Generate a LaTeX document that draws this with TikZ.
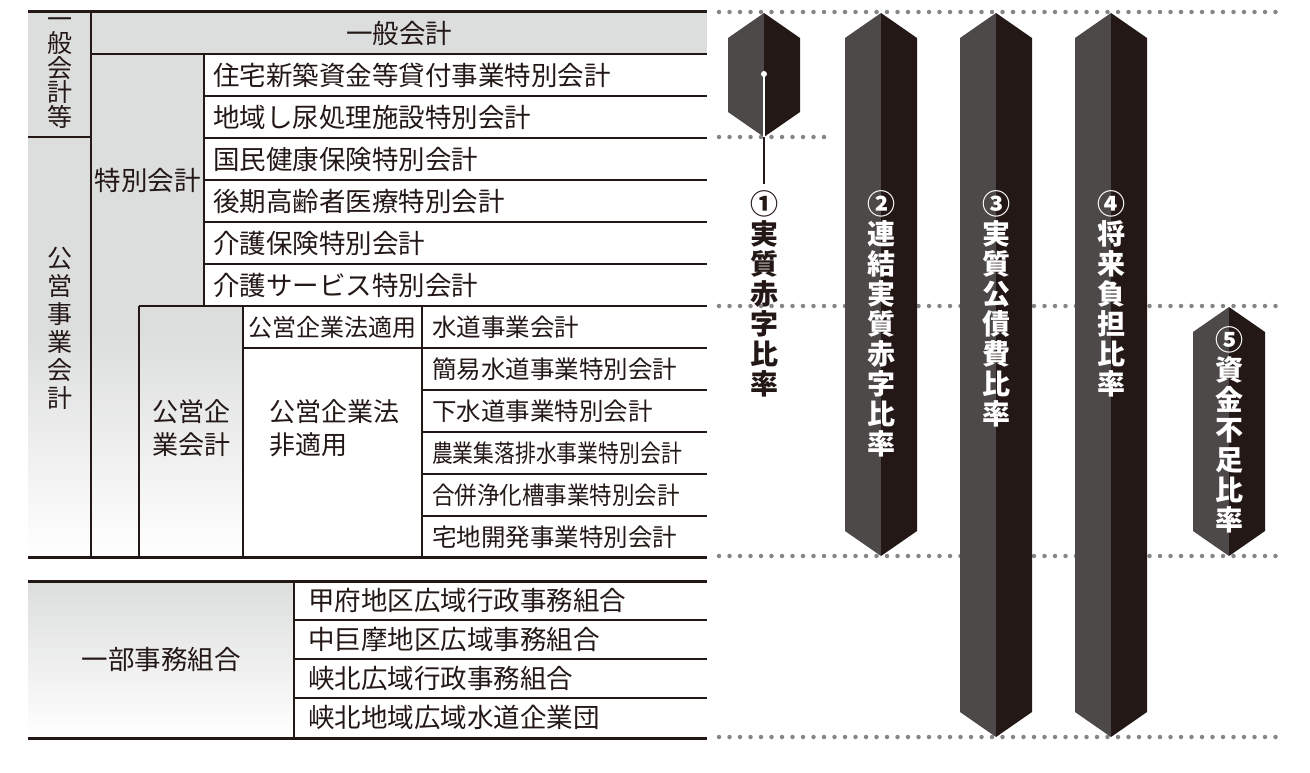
\documentclass[tikz,border=0pt]{standalone}
\usepackage{fontspec}
\usepackage{graphicx}
\usepackage{xcolor}
\newfontfamily\jp{Noto Sans CJK JP}
\definecolor{ink}{HTML}{231815}
\definecolor{gry}{HTML}{DCDDDD}
\definecolor{barlt}{HTML}{4C4948}
\definecolor{dotgray}{HTML}{858585}

\begin{document}
\begin{tikzpicture}[x=1pt,y=-1pt,node distance=42pt,
  rule/.style={draw=ink,line width=1.2pt},
  heavy/.style={draw=ink,line width=3pt},
  dotrule/.style={draw=dotgray,line width=4.5pt,line cap=round,
    dash pattern=on 0pt off 10.5pt},
  head/.style={font=\jp\fontsize{26.5}{28}\selectfont,text=ink,inner sep=0pt},
  acct/.style={head,text width=485pt,align=left},
  subacct/.style={font=\jp\fontsize{24.5}{28}\selectfont,text=ink,
    inner sep=0pt,text width=265pt,align=left},
  vhead/.style={font=\jp\fontsize{25}{24.5}\selectfont,text=ink,
    inner sep=0pt,align=center},
  ratio/.style={font=\jp\bfseries\fontsize{28}{30}\selectfont,
    inner sep=0pt,align=center,anchor=north}]

  \useasboundingbox (0,0) rectangle (1310,773);

  % grey cells
  \fill[gry] (28,12) rectangle (707,54);
  \fill[gry] (28,54) rectangle (204,306);
  \fill[gry] (28,306) rectangle (243,330);
  \shade[top color=gry,bottom color=white] (28,330) rectangle (243,557);
  \shade[top color=gry,bottom color=white] (28,581) rectangle (294,738);

  % table rules
  \draw[rule] (91,12) -- (91,557);
  \draw[rule] (28,137) -- (91,137);
  \draw[rule] (91,54) -- (707,54);
  \draw[rule] (204,54) -- (204,306);
  \draw[rule] (204,96) -- (707,96) (204,138) -- (707,138) (204,180) -- (707,180)
    (204,222) -- (707,222) (204,264) -- (707,264);
  \draw[rule] (139,306) -- (707,306);
  \draw[rule] (139,306) -- (139,557) (243,306) -- (243,557) (422,306) -- (422,557);
  \draw[rule] (243,348) -- (707,348);
  \draw[rule] (422,390) -- (707,390) (422,432) -- (707,432) (422,474) -- (707,474)
    (422,516) -- (707,516);
  \draw[rule] (294,581) -- (294,738);
  \draw[rule] (294,620) -- (707,620) (294,659) -- (707,659) (294,698) -- (707,698);
  \draw[heavy] (28,12) -- (707,12) (28,557) -- (707,557)
    (28,581) -- (707,581) (28,738) -- (707,738);

  \node[head] (ippan) at (399,33) {一般会計};
  \node[vhead] (ippanto) at (60,73) {一\\般\\会\\計\\等};
  \node[vhead,font=\jp\fontsize{25}{28}\selectfont] (koei) at (60,328)
    {公\\営\\事\\業\\会\\計};
  \node[head] (tokubetsu) at (147.5,180) {特別会計};

  \node[acct] (jutaku) at (455.5,75) {住宅新築資金等貸付事業特別会計};
  \node[acct] (shinyo) [below of=jutaku] {地域し尿処理施設特別会計};
  \node[acct] (kokuho) [below of=shinyo] {国民健康保険特別会計};
  \node[acct] (kouki) [below of=kokuho] {後期高齢者医療特別会計};
  \node[acct] (kaigo) [below of=kouki] {介護保険特別会計};
  \node[acct] (kaigosv) [below of=kaigo] {介護サービス特別会計};

  \node[head,align=center,font=\jp\fontsize{26}{33}\selectfont] (kigyo)
    at (191,428) {公営企\\業会計};
  \node[head,font=\jp\fontsize{24}{28}\selectfont] (tekiyo) at (332.5,327)
    {公営企業法適用};
  \node[head,align=left,font=\jp\fontsize{26}{33}\selectfont] (hitekiyo)
    at (334,428) {公営企業法\\非適用};

  \node[subacct] (suido) at (564.5,327) {水道事業会計};
  \node[subacct] (kan-i) [below of=suido] {簡易水道事業特別会計};
  \node[subacct] (gesui) [below of=kan-i] {下水道事業特別会計};
  \node[subacct] (nogyo) [below of=gesui] {\scalebox{0.85}[1]{農業集落排水事業特別会計}};
  \node[subacct] (gappei) [below of=nogyo] {\scalebox{0.92}[1]{合併浄化槽事業特別会計}};
  \node[subacct] (takuchi) [below of=gappei] {宅地開発事業特別会計};

  \node[head] (ichibu) at (161,659.5) {一部事務組合};
  \node[acct,text width=385pt] (kofu) at (500.5,600.5) {甲府地区広域行政事務組合};
  \node[acct,text width=385pt] (nakakoma) [node distance=39pt,below of=kofu]
    {中巨摩地区広域事務組合};
  \node[acct,text width=385pt] (kyohoku) [node distance=39pt,below of=nakakoma]
    {峡北広域行政事務組合};
  \node[acct,text width=385pt] (suidodan) [node distance=39pt,below of=kyohoku]
    {峡北地域広域水道企業団};

  % dotted guide lines
  \draw[dotrule] (719,12) -- (1278,12);
  \draw[dotrule] (719,137) -- (828,137);
  \draw[dotrule] (719,306) -- (1278,306);
  \draw[dotrule] (719,556) -- (1278,556);
  \draw[dotrule] (719,737) -- (1278,737);

  % ratio bars
  \fill[barlt] (764,13) -- (728,38) -- (728,112) -- (764,137) -- cycle;
  \fill[ink] (764,13) -- (800,38) -- (800,112) -- (764,137) -- cycle;
  \fill[barlt] (881,13) -- (845,38) -- (845,531) -- (881,556) -- cycle;
  \fill[ink] (881,13) -- (917,38) -- (917,531) -- (881,556) -- cycle;
  \fill[barlt] (996,13) -- (960,38) -- (960,712) -- (996,737) -- cycle;
  \fill[ink] (996,13) -- (1032,38) -- (1032,712) -- (996,737) -- cycle;
  \fill[barlt] (1111,13) -- (1075,38) -- (1075,712) -- (1111,737) -- cycle;
  \fill[ink] (1111,13) -- (1147,38) -- (1147,712) -- (1111,737) -- cycle;
  \fill[barlt] (1229,307) -- (1193,332) -- (1193,531) -- (1229,556) -- cycle;
  \fill[ink] (1229,307) -- (1265,332) -- (1265,531) -- (1229,556) -- cycle;

  \node[ratio,text=ink] (jisshitsu) at (764,190) {①\\実\\質\\赤\\字\\比\\率};
  \node[ratio,text=white] (renketsu) at (881,190) {②\\連\\結\\実\\質\\赤\\字\\比\\率};
  \node[ratio,text=white] (kosaihi) at (996,190) {③\\実\\質\\公\\債\\費\\比\\率};
  \node[ratio,text=white] (shorai) at (1111,190) {④\\将\\来\\負\\担\\比\\率};
  \node[ratio,text=white] (shikin) at (1229,326) {⑤\\資\\金\\不\\足\\比\\率};

  \coordinate (pin) at (764,74);
  \coordinate (hexbot) at (764,137);
  \draw[ink,line width=1.2pt,shorten >=6pt] (pin) -- (jisshitsu.north);
  \draw[white,line width=1.2pt] (pin) -- (hexbot);
  \fill[white] (pin) circle[radius=3pt];
\end{tikzpicture}
\end{document}
